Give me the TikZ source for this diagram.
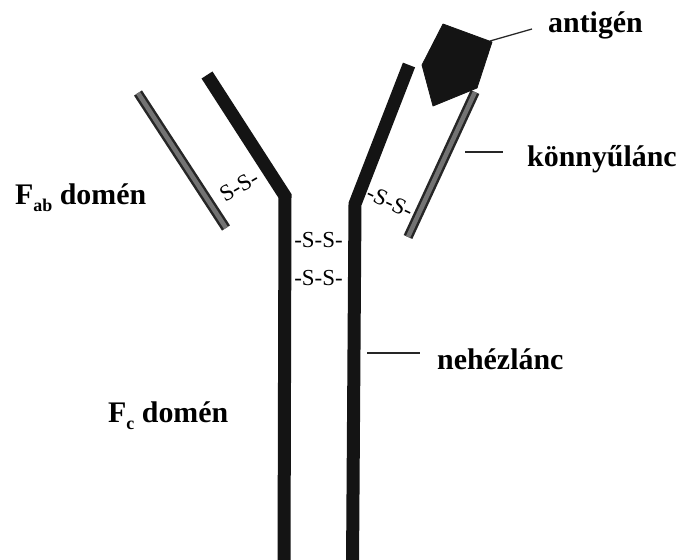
\documentclass[tikz,border=0pt]{standalone}
\usepackage{fontspec}
\setmainfont{Liberation Serif}
\begin{document}
\begin{tikzpicture}[x=1bp,y=-1bp,
  heavy/.style={line width=13bp, black!92, line cap=butt, line join=miter},
  lightouter/.style={line width=9.5bp, black!85, line cap=butt},
  lightinner/.style={line width=4.5bp, black!55, line cap=butt},
  antigenshape/.style={fill=black!92, draw=black!92, line width=0.8bp, line join=round},
  leader/.style={line width=1.3bp, black!85},
  lbl/.style={font=\fontsize{30}{36}\selectfont\bfseries, inner sep=0pt, anchor=base west},
  ss/.style={font=\fontsize{23}{26}\selectfont, inner sep=0pt}]
\useasboundingbox (0,0) rectangle (679,560);

% heavy chains
\coordinate (lhTop) at (207,75);
\coordinate (lhHinge) at (285,196);
\coordinate (lhEnd) at (284,566);
\coordinate (rhTop) at (409,65);
\coordinate (rhHinge) at (355,204);
\coordinate (rhEnd) at (352.5,566);
\draw[heavy] (lhTop) -- (lhHinge) -- (lhEnd);
\draw[heavy] (rhTop) -- (rhHinge) -- (rhEnd);

% light chains
\coordinate (llTop) at (138,93);
\coordinate (llEnd) at (226,228);
\coordinate (rlTop) at (475,92);
\coordinate (rlEnd) at (408,237);
\draw[lightouter] (llTop) -- (llEnd);
\draw[lightinner] (llTop) -- (llEnd);
\draw[lightouter] (rlTop) -- (rlEnd);
\draw[lightinner] (rlTop) -- (rlEnd);

% antigen
\draw[antigenshape] (443,24) -- (492,42) -- (477,88) -- (433,106) -- (422,65) -- cycle;
\coordinate (agTip) at (490,41);

% disulfide bridges
\node[ss, rotate=30] (ssL) at (239,186) {S-S-};
\node[ss, rotate=-25] (ssR) at (390,202) {-S-S-};
\node[ss] (ss1) at (318.5,240) {-S-S-};
\node[ss] (ss2) at (318.5,278) {-S-S-};

% labels
\node[lbl] (antigen) at (548,33) {antigén};
\node[lbl] (light) at (527,167) {könnyűlánc};
\node[lbl] (heavylbl) at (437,369) {nehézlánc};
\node[lbl] (fab) at (15,205) {F{\fontsize{18}{18}\selectfont\raisebox{-7bp}{ab}} domén};
\node[lbl] (fc) at (108,422) {F{\fontsize{18}{18}\selectfont\raisebox{-7bp}{c}} domén};

% leader lines
\coordinate (lightL) at (465,152);
\coordinate (heavyL) at (367,353);
\draw[leader] (agTip) -- (532,29);
\draw[leader] (lightL) -- (503,152);
\draw[leader] (heavyL) -- (420,353);
\end{tikzpicture}
\end{document}
